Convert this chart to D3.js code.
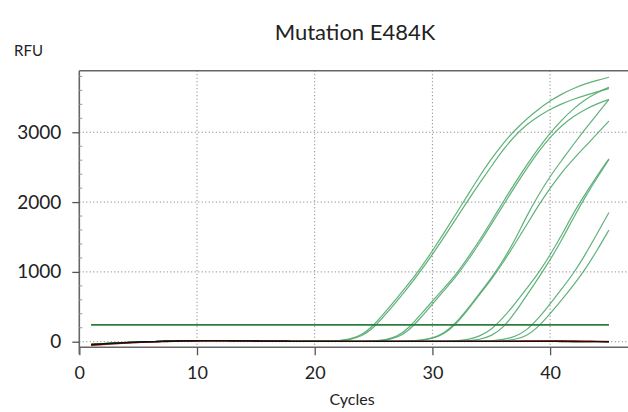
<!DOCTYPE html>
<html>
<head>
<meta charset="utf-8">
<script src="https://cdnjs.cloudflare.com/ajax/libs/d3/7.8.5/d3.min.js"></script>
<style>
  body { margin: 0; background: #fff; }
  svg { display: block; }
</style>
</head>
<body>
<div class="divCard"></div>
<script>

var cycles = [1,2,3,4,5,6,7,8,9,10,11,12,13,14,15,16,17,18,19,20,21,22,23,24,25,26,27,28,29,30,31,32,33,34,35,36,37,38,39,40,41,42,43,44,45];

// positive samples (RFU per cycle)
var g1a = [-38,-28,-19,-11,-5,0,5,9,12,14,15,15,14,12,10,8,7,6,5,5,6,14,35,95,230,425,630,830,1055,1300,1560,1830,2100,2370,2620,2840,3030,3190,3330,3450,3550,3630,3695,3745,3788];
var g1b = [-40,-29,-20,-12,-5,0,5,9,12,14,15,15,14,12,10,8,7,6,5,5,5,11,28,78,195,385,585,790,1010,1250,1500,1760,2020,2270,2510,2750,2950,3110,3230,3330,3410,3475,3530,3580,3625];
var g2a = [-36,-27,-18,-10,-4,1,5,9,12,14,15,15,14,12,10,8,7,6,5,5,4,4,5,6,10,25,70,195,390,580,770,960,1200,1450,1720,2000,2270,2530,2770,2990,3180,3340,3470,3570,3645];
var g2b = [-39,-29,-19,-11,-5,0,5,9,12,14,15,15,14,12,10,8,7,6,5,5,4,4,4,5,8,20,55,160,340,540,735,930,1160,1410,1680,1950,2220,2480,2720,2930,3100,3230,3330,3410,3470];
var g3a = [-37,-27,-18,-11,-5,0,5,9,12,14,15,15,14,12,10,8,7,6,5,5,4,4,3,3,3,4,5,8,20,50,120,265,470,690,910,1160,1450,1800,2100,2370,2600,2830,3050,3260,3470];
var g3b = [-41,-30,-20,-12,-6,0,4,8,12,14,15,15,14,12,10,8,7,6,5,5,4,4,3,3,3,4,5,7,18,45,110,250,455,675,890,1130,1400,1670,1950,2200,2430,2620,2800,2980,3160];
var g4a = [-38,-28,-19,-11,-5,0,5,9,12,14,15,15,14,12,10,8,7,6,5,5,4,4,3,3,3,3,3,3,3,4,5,12,30,75,170,340,540,760,980,1240,1530,1850,2120,2380,2620];
var g4b = [-40,-29,-19,-12,-5,0,5,9,12,14,15,15,14,12,10,8,7,6,5,5,4,4,3,3,3,3,3,3,3,3,4,5,12,30,80,195,410,660,910,1170,1460,1780,2080,2350,2610];
var g5a = [-37,-27,-18,-10,-5,0,5,9,12,14,15,15,14,12,10,8,7,6,5,5,4,4,3,3,3,3,3,3,3,3,3,3,4,5,12,30,70,160,330,540,760,980,1250,1550,1850];
var g5b = [-39,-28,-19,-11,-5,0,5,9,12,14,15,15,14,12,10,8,7,6,5,5,4,4,3,3,3,3,3,3,3,3,3,3,3,4,5,12,30,80,210,400,600,810,1040,1310,1600];

// negative controls
var neg1 = [-45,-33,-22,-13,-6,0,5,9,12,14,15,15,14,12,10,8,7,6,5,5,4,4,4,4,4,4,4,4,4,4,4,4,4,4,4,4,4,4,4,4,3,2,1,0,-1];
var neg2 = [-42,-31,-21,-12,-5,1,6,10,13,15,16,15,14,12,10,8,7,6,5,5,5,5,5,5,5,5,5,5,5,5,5,5,5,5,5,5,5,5,5,5,4,3,2,1,0];
var red1 = [-55,-42,-30,-20,-12,-5,1,6,10,12,13,13,12,11,9,8,7,6,5,5,5,5,5,5,5,5,5,5,5,5,5,5,5,5,5,6,8,10,12,14,14,12,9,6,3];
var red2 = [-50,-38,-27,-18,-10,-4,2,6,10,12,13,13,12,11,9,8,7,6,5,5,5,5,5,5,5,5,5,5,5,5,5,5,5,5,5,5,6,8,10,12,12,10,8,5,2];

var greenSeries = [g1a, g1b, g2a, g2b, g3a, g3b, g4a, g4b, g5a, g5b];
var redSeries = [red1, red2];
var blackSeries = [neg1, neg2];

var threshold = 240;
var thresholdCycles = [1, 45];

var xTicks = [0, 10, 20, 30, 40];
var yTicks = [0, 1000, 2000, 3000];
var yMinorTicks = [200,400,600,800,1200,1400,1600,1800,2200,2400,2600,2800,3200,3400,3600,3800];

var W = 628, H = 412;
var margin = { top: 70.7, left: 79.3, bottom: 347.3 };

var xScale = d3.scaleLinear().domain([0, 47]).range([margin.left, margin.left + 47 * 11.77]);
var yScale = d3.scaleLinear().domain([-80, 3882]).range([margin.bottom, margin.top]);

var svg = d3.select(".divCard")
  .append("svg")
  .attr("width", W)
  .attr("height", H);

var fontFam = "Lato, 'Open Sans', sans-serif";

// gridlines
svg.append("g")
  .selectAll("line")
  .data(xTicks.slice(1))
  .enter()
  .append("line")
  .attr("x1", function(d) { return xScale(d); })
  .attr("x2", function(d) { return xScale(d); })
  .attr("y1", margin.top)
  .attr("y2", margin.bottom)
  .attr("stroke", "#777")
  .attr("stroke-width", 1)
  .attr("stroke-dasharray", "1,2.5");

svg.append("g")
  .selectAll("line")
  .data(yTicks)
  .enter()
  .append("line")
  .attr("x1", margin.left)
  .attr("x2", W)
  .attr("y1", function(d) { return yScale(d); })
  .attr("y2", function(d) { return yScale(d); })
  .attr("stroke", "#777")
  .attr("stroke-width", 1)
  .attr("stroke-dasharray", "1,2.5");

var line = d3.line()
  .x(function(d, i) { return xScale(cycles[i]); })
  .y(function(d) { return yScale(d); })
  .curve(d3.curveBasis);

// green amplification curves
svg.append("g")
  .selectAll("path")
  .data(greenSeries)
  .enter()
  .append("path")
  .attr("d", line)
  .attr("fill", "none")
  .attr("stroke", "#4fa86c")
  .attr("stroke-width", 1.2)
  .attr("stroke-opacity", 0.9);

// threshold
svg.append("line")
  .attr("x1", xScale(thresholdCycles[0]))
  .attr("x2", xScale(thresholdCycles[1]))
  .attr("y1", yScale(threshold))
  .attr("y2", yScale(threshold))
  .attr("stroke", "#2e7d3c")
  .attr("stroke-width", 1.8);

svg.append("g")
  .selectAll("path")
  .data(redSeries)
  .enter()
  .append("path")
  .attr("d", line)
  .attr("fill", "none")
  .attr("stroke", "#e0362c")
  .attr("stroke-width", 1.3);

svg.append("g")
  .selectAll("path")
  .data(blackSeries)
  .enter()
  .append("path")
  .attr("d", line)
  .attr("fill", "none")
  .attr("stroke", "#111")
  .attr("stroke-width", 1.3);

// frame: top border + axes
svg.append("line")
  .attr("x1", margin.left).attr("x2", W)
  .attr("y1", margin.top).attr("y2", margin.top)
  .attr("stroke", "#666").attr("stroke-width", 1.6);

var xAxis = d3.axisBottom(xScale)
  .tickValues(xTicks)
  .tickFormat(d3.format("d"))
  .tickSize(8)
  .tickPadding(11);

var gx = svg.append("g")
  .attr("transform", "translate(0," + margin.bottom + ")")
  .call(xAxis);
gx.select(".domain").attr("d", "M" + margin.left + ",0H" + W).attr("stroke", "#666").attr("stroke-width", 1.6);
gx.selectAll(".tick line").attr("stroke", "#555").attr("stroke-width", 1.3);
gx.selectAll("text")
  .attr("font-family", fontFam)
  .attr("font-size", "18px")
  .attr("fill", "#222");

var yAxis = d3.axisLeft(yScale)
  .tickValues(yTicks)
  .tickFormat(d3.format("d"))
  .tickSize(7)
  .tickPadding(11);

var gy = svg.append("g")
  .attr("transform", "translate(" + margin.left + ",0)")
  .call(yAxis);
gy.select(".domain").attr("d", "M0," + margin.top + "V" + (margin.bottom + 7)).attr("stroke", "#666").attr("stroke-width", 1.6);
gy.selectAll(".tick line").attr("stroke", "#555").attr("stroke-width", 1.3);
gy.selectAll("text")
  .attr("font-family", fontFam)
  .attr("font-size", "19px")
  .attr("fill", "#222");

// minor ticks inside the left axis
svg.append("g")
  .selectAll("line")
  .data(yMinorTicks)
  .enter()
  .append("line")
  .attr("x1", margin.left)
  .attr("x2", margin.left + 3)
  .attr("y1", function(d) { return yScale(d); })
  .attr("y2", function(d) { return yScale(d); })
  .attr("stroke", "#999")
  .attr("stroke-width", 1);

// labels
svg.append("text")
  .attr("x", 355)
  .attr("y", 40)
  .style("text-anchor", "middle")
  .attr("font-family", fontFam)
  .attr("font-size", "22px")
  .attr("fill", "#222")
  .text("Mutation E484K");

svg.append("text")
  .attr("x", 14)
  .attr("y", 56)
  .attr("font-family", fontFam)
  .attr("font-size", "15px")
  .attr("fill", "#222")
  .text("RFU");

svg.append("text")
  .attr("x", 352)
  .attr("y", 405)
  .style("text-anchor", "middle")
  .attr("font-family", fontFam)
  .attr("font-size", "16px")
  .attr("fill", "#222")
  .text("Cycles");

</script>
</body>
</html>
